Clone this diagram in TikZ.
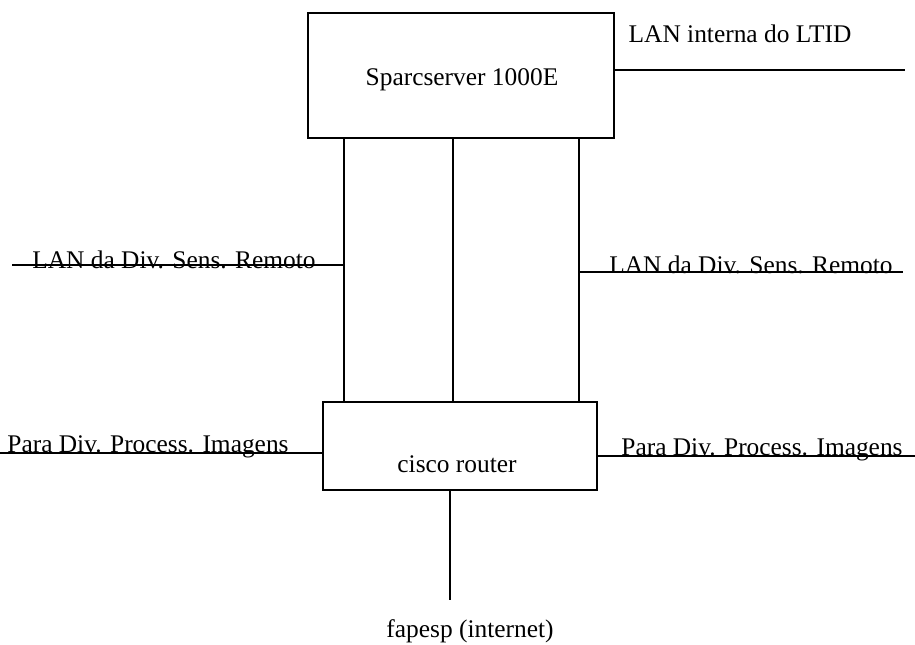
\documentclass[tikz,border=0pt]{standalone}
\usepackage{fontspec}
\setmainfont{Liberation Serif}
\usetikzlibrary{positioning}

\tikzset{
  hostbox/.style={draw, line width=0.8pt, rectangle, inner sep=0pt},
  net/.style={line width=0.8pt},
  netlabel/.style={anchor=base, inner sep=0pt}
}

\begin{document}
\begin{tikzpicture}[x=0.5pt, y=-0.5pt, font=\fontsize{12.7}{15}\selectfont]
    \useasboundingbox (0,0) rectangle (915,644);

    % --- Boxes ---
    \node[hostbox, minimum width=153pt, minimum height=62.5pt] (server) at (461, 75.5) {};
    \node[netlabel] (serverlbl) at (462, 85) {Sparcserver 1000E};
    \node[hostbox, minimum width=137pt, minimum height=44pt] (router) at (460, 446) {};
    \node[netlabel] (routerlbl) at (457, 472) {cisco router};

    % --- Links between server and router ---
    \draw[net] (server.south -| 344,0) -- (router.north -| 344,0);
    \draw[net] (server.south -| 453,0) -- (router.north -| 453,0);
    \draw[net] (server.south -| 579,0) -- (router.north -| 579,0);

    % --- LAN interna ---
    \coordinate (lanint) at (905, 70);
    \draw[net] (server.east |- lanint) -- (lanint);
    \node[netlabel] (lanintlbl) at (740, 42) {LAN interna do LTID};

    % --- LAN da Div. Sens. Remoto (both sides) ---
    \coordinate (lanl) at (12, 265);
    \coordinate (lanr) at (903, 272);
    \draw[net] (lanl) -- (lanl -| 344,0);
    \draw[net] (lanr -| 579,0) -- (lanr);
    \node[netlabel] (lanllbl) at (174, 268) {LAN da Div. Sens. Remoto};
    \node[netlabel] (lanrlbl) at (751, 273) {LAN da Div. Sens. Remoto};

    % --- Para Div. Process. Imagens (both sides) ---
    \coordinate (pdil) at (0, 453);
    \coordinate (pdir) at (915, 456);
    \draw[net] (pdil) -- (router.west |- pdil);
    \draw[net] (router.east |- pdir) -- (pdir);
    \node[netlabel] (pdillbl) at (148, 452) {Para Div. Process. Imagens};
    \node[netlabel] (pdirlbl) at (762, 455) {Para Div. Process. Imagens};

    % --- fapesp ---
    \coordinate (fapesp) at (450, 600);
    \draw[net] (router.south -| fapesp) -- (fapesp);
    \node[netlabel] (fapesplbl) at (470, 637) {fapesp (internet)};
\end{tikzpicture}
\end{document}
